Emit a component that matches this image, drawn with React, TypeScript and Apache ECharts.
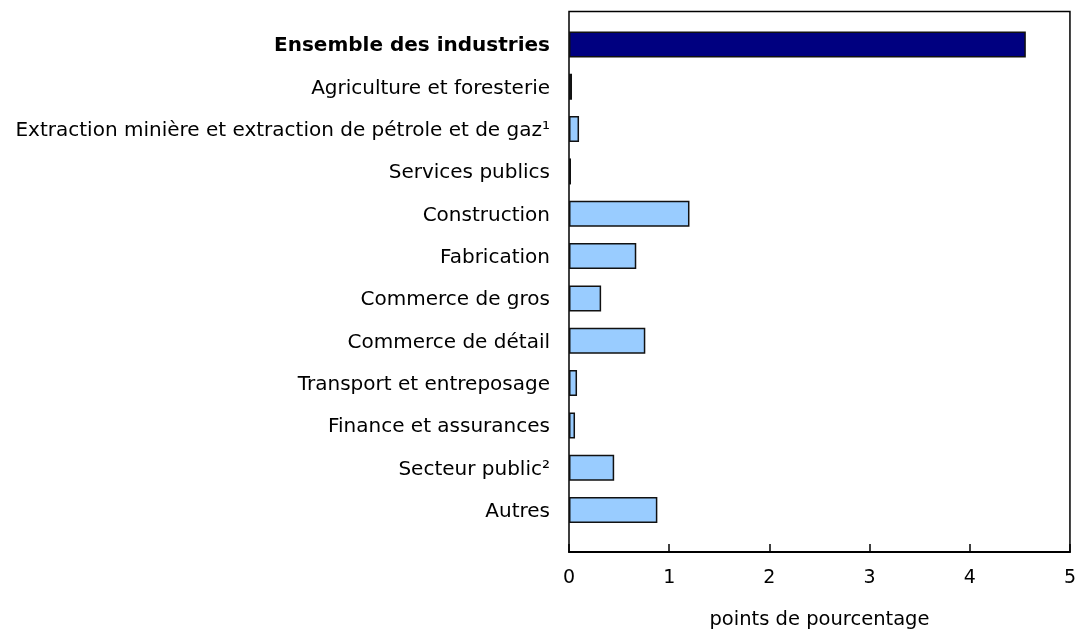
import React, { useEffect, useRef } from "react";
import * as echarts from "echarts";

const categories = [
  "Ensemble des industries",
  "Agriculture et foresterie",
  "Extraction minière et extraction de pétrole et de gaz¹",
  "Services publics",
  "Construction",
  "Fabrication",
  "Commerce de gros",
  "Commerce de détail",
  "Transport et entreposage",
  "Finance et assurances",
  "Secteur public²",
  "Autres",
];
const values = [4.55, 0.03, 0.1, 0.02, 1.2, 0.67, 0.32, 0.76, 0.08, 0.06, 0.45, 0.88];
const xTicks = [0, 1, 2, 3, 4, 5];
const axisTitle = "points de pourcentage";

const FONT = "DejaVu Sans, Verdana, sans-serif";

export default function App() {
  const ref = useRef<HTMLDivElement>(null);
  useEffect(() => {
    const chart = echarts.init(ref.current!, null, { renderer: "svg" });
    const left = 569;
    const right = 1079 - 1071;
    chart.setOption({
      animation: false,
      grid: [
        {
          left,
          right,
          top: 11.5,
          bottom: 633 - 561,
          show: true,
          borderColor: "#000",
          borderWidth: 1.5,
          backgroundColor: "transparent",
        },
        { left, right, top: 23.3, bottom: 633 - 531.2 },
      ],
      xAxis: [
        {
          gridIndex: 0,
          type: "value",
          min: xTicks[0],
          max: xTicks[xTicks.length - 1],
          interval: 1,
          axisLine: { show: true, lineStyle: { color: "#000", width: 2 } },
          axisTick: { show: true, inside: true, length: 8, lineStyle: { color: "#000", width: 1.5 } },
          splitLine: { show: false },
          axisLabel: { color: "#000", fontFamily: FONT, fontSize: 19, margin: 14 },
          name: axisTitle,
          nameLocation: "middle",
          nameGap: 56,
          nameTextStyle: { color: "#000", fontFamily: FONT, fontSize: 19.5 },
        },
        {
          gridIndex: 1,
          type: "value",
          min: 0,
          max: 5,
          show: false,
        },
      ],
      yAxis: [
        {
          gridIndex: 0,
          type: "value",
          show: false,
        },
        {
          gridIndex: 1,
          type: "category",
          inverse: true,
          data: categories.map((c, i) =>
            i === 0 ? { value: c, textStyle: { fontWeight: "bold" } } : c
          ),
          axisLine: { show: false },
          axisTick: { show: false },
          axisLabel: { color: "#000", fontFamily: FONT, fontSize: 20, margin: 19 },
        },
      ],
      series: [
        {
          type: "bar",
          xAxisIndex: 1,
          yAxisIndex: 1,
          barWidth: 26,
          data: values.map((v, i) => ({
            value: v,
            itemStyle: {
              color: i === 0 ? "#000080" : "#99CCFF",
              borderColor: "#111",
              borderWidth: 1.5,
            },
          })),
        },
      ],
    });
    return () => chart.dispose();
  }, []);
  return (
    <div
      ref={ref}
      style={{ position: "fixed", left: 0, top: 0, width: 1079, height: 633 }}
    />
  );
}
